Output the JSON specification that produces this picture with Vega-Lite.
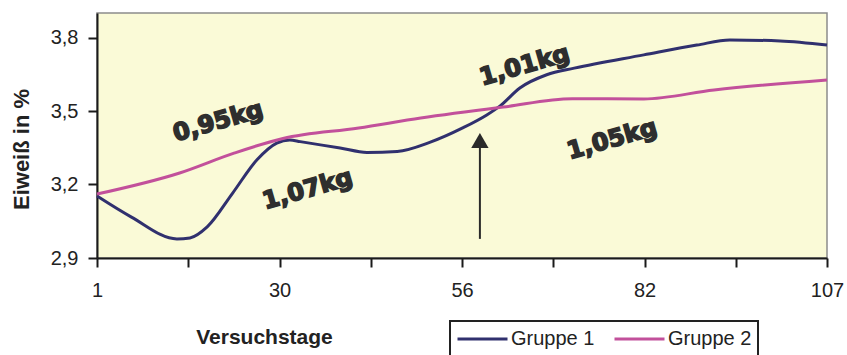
{
  "$schema": "https://vega.github.io/schema/vega-lite/v6.json",
  "width": 730,
  "height": 245,
  "autosize": {"type": "none"},
  "padding": {"left": 97, "top": 13, "right": 20, "bottom": 97},
  "background": "white",
  "config": {
    "view": {"stroke": "#8c8c8c", "strokeWidth": 1.5, "fill": "#FAFAD7"},
    "font": "Liberation Sans",
    "legend": {"strokeColor": "#222222", "strokeWidth": 2},
    "axis": {
      "domainColor": "#1a1a1a", "domainWidth": 2, "tickColor": "#1a1a1a", "tickWidth": 2, "tickSize": 9,
      "labelFont": "Liberation Sans", "labelFontSize": 20, "labelColor": "#222222",
      "titleFont": "Liberation Sans", "titleFontSize": 21, "titleFontWeight": "bold", "titleColor": "#222222",
      "grid": false
    }
  },
  "layer": [
    {
      "data": {"values": [
        {"tag": 1, "wert": 3.153, "gruppe": "Gruppe 1"},
        {"tag": 6, "wert": 3.067, "gruppe": "Gruppe 1"},
        {"tag": 12.6, "wert": 2.978, "gruppe": "Gruppe 1"},
        {"tag": 14.5, "wert": 2.982, "gruppe": "Gruppe 1"},
        {"tag": 17, "wert": 3.027, "gruppe": "Gruppe 1"},
        {"tag": 20.7, "wert": 3.165, "gruppe": "Gruppe 1"},
        {"tag": 24.2, "wert": 3.3, "gruppe": "Gruppe 1"},
        {"tag": 27.1, "wert": 3.369, "gruppe": "Gruppe 1"},
        {"tag": 29, "wert": 3.382, "gruppe": "Gruppe 1"},
        {"tag": 30.5, "wert": 3.375, "gruppe": "Gruppe 1"},
        {"tag": 36.3, "wert": 3.349, "gruppe": "Gruppe 1"},
        {"tag": 40.2, "wert": 3.331, "gruppe": "Gruppe 1"},
        {"tag": 44.6, "wert": 3.335, "gruppe": "Gruppe 1"},
        {"tag": 49.4, "wert": 3.373, "gruppe": "Gruppe 1"},
        {"tag": 54.1, "wert": 3.431, "gruppe": "Gruppe 1"},
        {"tag": 57.6, "wert": 3.484, "gruppe": "Gruppe 1"},
        {"tag": 59.5, "wert": 3.52, "gruppe": "Gruppe 1"},
        {"tag": 62.4, "wert": 3.594, "gruppe": "Gruppe 1"},
        {"tag": 66.3, "wert": 3.648, "gruppe": "Gruppe 1"},
        {"tag": 70.3, "wert": 3.675, "gruppe": "Gruppe 1"},
        {"tag": 80.4, "wert": 3.729, "gruppe": "Gruppe 1"},
        {"tag": 88.1, "wert": 3.769, "gruppe": "Gruppe 1"},
        {"tag": 92.9, "wert": 3.79, "gruppe": "Gruppe 1"},
        {"tag": 100.2, "wert": 3.786, "gruppe": "Gruppe 1"},
        {"tag": 107, "wert": 3.769, "gruppe": "Gruppe 1"},
        {"tag": 1, "wert": 3.161, "gruppe": "Gruppe 2"},
        {"tag": 13, "wert": 3.247, "gruppe": "Gruppe 2"},
        {"tag": 21, "wert": 3.329, "gruppe": "Gruppe 2"},
        {"tag": 28, "wert": 3.388, "gruppe": "Gruppe 2"},
        {"tag": 39, "wert": 3.431, "gruppe": "Gruppe 2"},
        {"tag": 48, "wert": 3.471, "gruppe": "Gruppe 2"},
        {"tag": 60, "wert": 3.516, "gruppe": "Gruppe 2"},
        {"tag": 70, "wert": 3.55, "gruppe": "Gruppe 2"},
        {"tag": 80.4, "wert": 3.549, "gruppe": "Gruppe 2"},
        {"tag": 90.6, "wert": 3.586, "gruppe": "Gruppe 2"},
        {"tag": 107, "wert": 3.627, "gruppe": "Gruppe 2"}
      ]},
      "mark": {"type": "line", "interpolate": "monotone", "strokeWidth": 3},
      "encoding": {
        "x": {
          "field": "tag", "type": "quantitative",
          "scale": {"domain": [1, 107], "nice": false, "zero": false},
          "axis": {
            "title": "Versuchstage",
            "values": [1, 14.25, 27.5, 40.75, 54, 67.25, 80.5, 93.75, 107],
            "labelExpr": "datum.value == 1 ? '1' : datum.value == 27.5 ? '30' : datum.value == 54 ? '56' : datum.value == 80.5 ? '82' : datum.value == 107 ? '107' : ''",
            "labelPadding": 13,
            "labelFlush": false,
            "titleX": 167, "titleY": 79, "titleAlign": "center", "titleBaseline": "middle"
          }
        },
        "y": {
          "field": "wert", "type": "quantitative",
          "scale": {"domain": [2.9, 3.9], "nice": false, "zero": false},
          "axis": {
            "title": "Eiweiß in %",
            "titleFontSize": 22,
            "values": [2.9, 3.2, 3.5, 3.8],
            "labelExpr": "replace(format(datum.value, '.1f'), '.', ',')",
            "labelPadding": 10,
            "titleX": -64, "titleY": 136, "titleAlign": "center"
          }
        },
        "color": {
          "field": "gruppe", "type": "nominal",
          "scale": {"domain": ["Gruppe 1", "Gruppe 2"], "range": ["#30306E", "#C2509B"]},
          "legend": {
            "title": null, "orient": "none", "direction": "horizontal",
            "legendX": 353, "legendY": 308,
            "strokeColor": "#222222", "padding": 6,
            "symbolType": "stroke", "symbolSize": 2500, "symbolStrokeWidth": 3,
            "clipHeight": 24,
            "labelFontSize": 20, "labelFont": "Liberation Sans", "labelColor": "#222222",
            "labelOffset": 2, "columnPadding": 18
          }
        }
      }
    },
    {
      "data": {"values": [{"tag": 56.6, "von": 2.978, "bis": 3.36}]},
      "mark": {"type": "rule", "color": "#2a2a2a", "strokeWidth": 2},
      "encoding": {
        "x": {"field": "tag", "type": "quantitative"},
        "y": {"field": "von", "type": "quantitative"},
        "y2": {"field": "bis"}
      }
    },
    {
      "data": {"values": [{"tag": 56.6, "wert": 3.38}]},
      "mark": {"type": "point", "shape": "triangle-up", "filled": true, "color": "#2a2a2a", "size": 300, "opacity": 1},
      "encoding": {
        "x": {"field": "tag", "type": "quantitative"},
        "y": {"field": "wert", "type": "quantitative"}
      }
    },
    {
      "data": {"values": [
        {"tag": 18.6, "wert": 3.455, "text": "0,95kg"},
        {"tag": 31.6, "wert": 3.178, "text": "1,07kg"},
        {"tag": 63.1, "wert": 3.684, "text": "1,01kg"},
        {"tag": 75.8, "wert": 3.382, "text": "1,05kg"}
      ]},
      "mark": {"type": "text", "font": "DejaVu Sans", "fontWeight": "bold", "fontSize": 24, "angle": 344, "color": "#2e2e2e", "stroke": "#2e2e2e", "strokeWidth": 1.6, "align": "center", "baseline": "middle"},
      "encoding": {
        "x": {"field": "tag", "type": "quantitative"},
        "y": {"field": "wert", "type": "quantitative"},
        "text": {"field": "text"}
      }
    }
  ]
}
